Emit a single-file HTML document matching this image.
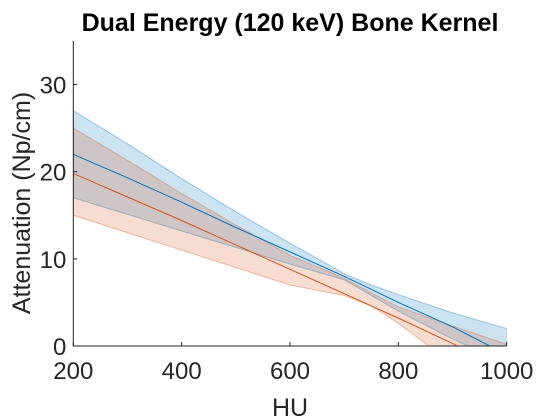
<!DOCTYPE html>
<html><head><meta charset="utf-8"><style>
body{margin:0;background:#fff;}
svg{display:block;font-family:"Liberation Sans",Arial,sans-serif;}
</style></head><body>
<svg id="c" width="560" height="420">
<text x="290" y="31" text-anchor="middle" font-size="25" font-weight="bold" fill="#000">Dual Energy (120 keV) Bone Kernel</text>
<defs><clipPath id="cp"><rect x="73.3" y="41" width="433.4" height="305"/></clipPath></defs>
<g id="plot" clip-path="url(#cp)"></g>
<g id="axes"></g>
<text x="290" y="416" text-anchor="middle" font-size="25" fill="#262626">HU</text>
<text transform="translate(30,203) rotate(-90)" text-anchor="middle" font-size="25" fill="#262626">Attenuation (Np/cm)</text>
</svg>
<script>
const xs=[200,300,400,500,600,700,750,800,900,1000];
const blueMid=[22,19.3,16.5,13.6,10.8,8,6.5,5,2.2,-1];
const blueUp=[27,23.2,19.2,15.4,11.8,8.3,7,5.9,3.8,2];
const blueLo=[17,15.1,13.2,11.3,9.4,7.6,5.8,4,0.8,-2];
const orMid=[19.8,17.1,14.4,11.6,8.8,6,4.6,3.2,0.3,-3];
const orUp=[25,21.3,17.5,13.9,10.4,7.8,6.1,4.5,2.3,0.2];
const orLo=[15,13,11,9,7,5.8,4.6,2.6,-2,-6];
const xTicks=[200,400,600,800,1000];
const yTicks=[0,10,20,30];
const X0=73.3,X1=506.7,Y0=346,Y1=41;
const sx=v=>X0+(v-200)/800*(X1-X0);
const sy=v=>Y0-v/35*(Y0-Y1);
const NS="http://www.w3.org/2000/svg";
const plot=document.getElementById('plot'),axes=document.getElementById('axes');
function band(up,lo,fill,stroke,name){
 const pts=xs.map((x,i)=>sx(x)+','+sy(up[i])).concat(xs.map((x,i)=>sx(x)+','+sy(lo[i])).reverse());
 const p=document.createElementNS(NS,'polygon');
 p.setAttribute('points',pts.join(' '));
 p.setAttribute('fill',fill);p.setAttribute('fill-opacity','0.2');
 p.setAttribute('stroke',stroke);p.setAttribute('stroke-opacity','0.35');p.setAttribute('stroke-width','1');
 
 
 plot.appendChild(p);
}
function line(v,c,name){
 const p=document.createElementNS(NS,'polyline');
 p.setAttribute('points',xs.map((x,i)=>sx(x)+','+sy(v[i])).join(' '));
 p.setAttribute('fill','none');p.setAttribute('stroke',c);p.setAttribute('stroke-width','1');
 
 
 plot.appendChild(p);
}
band(blueUp,blueLo,'#0072BD','#0072BD','blue-band');
band(orUp,orLo,'#D95319','#D95319','orange-band');
line(blueMid,'#0072BD','blue-line');
line(orMid,'#D95319','orange-line');
function el(t,a,parent){const e=document.createElementNS(NS,t);for(const k in a)e.setAttribute(k,a[k]);parent.appendChild(e);return e;}
const ax=el('path',{d:`M${X0},${Y1}V${Y0}H${X1}`,fill:'none',stroke:'#262626','stroke-width':'1'},axes);


xTicks.forEach(t=>{
 const x=sx(t);
 el('line',{x1:x,x2:x,y1:Y0,y2:Y0-4,stroke:'#262626'},axes);
 const tx=el('text',{x:x,y:Y0+33,'text-anchor':'middle','font-size':'24',fill:'#262626'},axes);
 tx.textContent=t;
 
 
});
yTicks.forEach(t=>{
 const y=sy(t);
 el('line',{x1:X0,x2:X0+4,y1:y,y2:y,stroke:'#262626'},axes);
 const tx=el('text',{x:X0-7,y:y+9,'text-anchor':'end','font-size':'24',fill:'#262626'},axes);
 tx.textContent=t;
 
 
});
</script>
</body></html>
